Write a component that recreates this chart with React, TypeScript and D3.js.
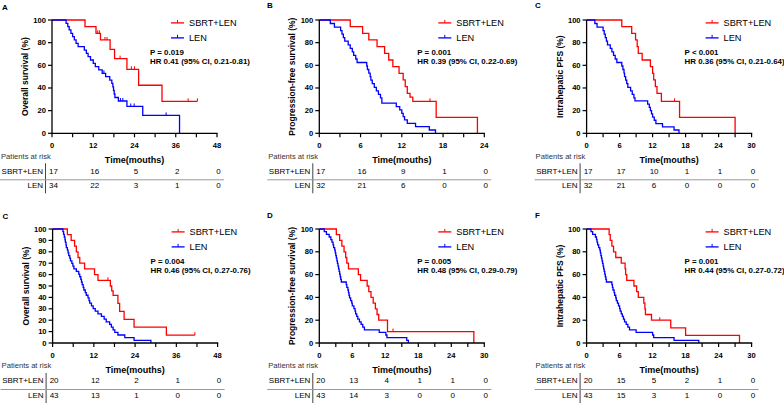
import React from 'react';
import * as d3 from 'd3';

type Pt = [number, number];

// ---------- Panel A : Overall survival ----------
const A_SBRT: Pt[] = [[9.6,94.1],[12.8,88.2],[14.1,82.4],[16.9,74.1],[18.2,65.9],[21.8,56.5],[25.2,42.4],[32.0,28.2]];
const A_SBRT_END = 42.3;
const A_SBRT_CENS = [13.3,13.8,15.4,16.0,19.8,23.1,24.0,39.6,42.3];
const A_LEN: Pt[] = [[4.1,97.1],[4.6,94.1],[5.0,91.2],[5.5,88.2],[6.0,85.3],[6.5,82.4],[7.0,79.4],[7.6,76.5],[9.4,73.5],[10.0,70.6],[10.5,67.6],[11.2,64.7],[12.0,61.8],[12.6,58.8],[13.6,55.9],[14.6,52.9],[15.6,50.0],[16.8,47.0],[17.4,44.0],[17.7,40.9],[17.9,37.8],[18.1,34.7],[18.3,31.6],[19.3,28.5],[21.8,23.7],[26.4,15.8],[37.1,0]];
const A_LEN_CENS = [15.1,19.9,20.6,22.9,23.9,33.2];
const A_RISK_T = [0,12,24,36,48];
const A_RISK_SBRT = [17,16,5,2,0];
const A_RISK_LEN = [34,22,3,1,0];

// ---------- Panel B : Progression-free survival ----------
const B_SBRT: Pt[] = [[4.5,94.1],[6.3,88.2],[7.2,82.4],[8.4,76.5],[9.5,70.6],[10.1,64.7],[10.7,58.8],[11.6,52.9],[12.2,47.1],[12.5,41.2],[12.8,35.3],[13.2,32.0],[13.6,28.2],[17.0,14.1],[23.0,0]];
const B_SBRT_CENS = [16.1];
const B_LEN: Pt[] = [[1.6,96.9],[2.2,93.8],[3.1,90.6],[3.3,87.5],[3.5,84.4],[3.7,81.3],[4.2,78.1],[4.5,75.0],[4.8,71.9],[5.0,68.8],[5.3,65.6],[5.5,62.5],[6.9,59.4],[7.0,56.3],[7.2,53.1],[7.4,50.0],[7.5,46.9],[7.7,43.8],[8.0,40.6],[8.3,37.5],[8.6,34.4],[8.9,31.3],[9.1,26.6],[11.2,23.5],[11.7,20.6],[12.0,17.6],[12.2,14.7],[12.4,11.8],[12.8,8.8],[14.0,5.9],[16.0,2.9],[16.9,0]];
const B_RISK_T = [0,6,12,18,24];
const B_RISK_SBRT = [17,16,9,1,0];
const B_RISK_LEN = [32,21,6,0,0];

// ---------- Panel C (top) : Intrahepatic PFS ----------
const C_SBRT: Pt[] = [[6.4,94.1],[8.2,88.2],[8.9,82.4],[9.2,76.5],[9.4,70.6],[10.1,64.7],[11.6,58.8],[12.0,52.9],[12.2,47.1],[12.5,41.2],[12.8,35.3],[13.6,28.2],[16.9,14.1],[27.0,0]];
const C_SBRT_CENS = [16.0];
const C_LEN: Pt[] = [[1.5,96.9],[1.9,93.8],[3.0,90.6],[3.2,87.5],[3.4,84.4],[3.6,81.3],[3.8,78.1],[4.3,75.0],[4.6,71.9],[4.9,68.8],[5.2,65.6],[5.5,62.5],[6.4,59.4],[6.6,56.3],[6.8,53.1],[6.9,50.0],[7.1,46.9],[7.3,43.8],[7.5,40.6],[8.0,37.5],[8.3,34.4],[8.6,31.3],[8.8,28.7],[11.1,25.8],[11.4,22.9],[11.6,20.0],[11.8,17.2],[12.0,14.3],[12.3,11.5],[12.6,8.6],[13.8,5.7],[15.9,2.9],[16.8,0]];
const C_RISK_T = [0,6,12,18,24,30];
const C_RISK_SBRT = [17,17,10,1,1,0];
const C_RISK_LEN = [32,21,6,0,0,0];

// ---------- Panel C (bottom) : Overall survival ----------
const C2_SBRT: Pt[] = [[4.3,95],[5.4,90],[6.4,85],[6.9,80],[7.4,75],[7.9,70],[9.3,65],[12.2,60],[13.2,55],[16.8,50],[17.2,45.8],[17.6,41.7],[19.0,34.7],[19.5,27.8],[20.8,20.8],[23.7,13.9],[33.1,6.9]];
const C2_SBRT_END = 41.4;
const C2_SBRT_CENS = [16.1,41.4];
const C2_LEN: Pt[] = [[3.0,97.7],[3.2,95.3],[3.4,93.0],[3.6,90.7],[3.7,88.4],[3.9,86.0],[4.0,83.7],[4.3,81.4],[4.5,79.1],[4.7,76.7],[5.0,74.4],[5.2,72.1],[5.6,69.8],[5.9,67.4],[6.2,65.1],[6.9,62.8],[7.6,60.5],[7.9,58.1],[8.2,55.8],[8.4,53.5],[8.6,51.2],[8.9,48.8],[9.1,46.5],[9.5,44.2],[9.8,41.9],[10.3,39.5],[10.6,37.2],[10.8,34.9],[11.3,32.6],[11.8,30.2],[12.4,27.9],[13.2,25.6],[14.2,23.3],[15.0,20.9],[15.6,18.6],[16.6,16.3],[17.1,14.0],[17.6,11.6],[18.1,9.3],[19.0,7.0],[21.0,4.7],[23.7,2.3],[28.6,0]];
const C2_RISK_T = [0,12,24,36,48];
const C2_RISK_SBRT = [20,12,2,1,0];
const C2_RISK_LEN = [43,13,1,0,0];

// ---------- Panel D : Progression-free survival ----------
const D_SBRT: Pt[] = [[3.1,95],[3.7,90],[4.1,85],[4.5,80],[4.8,75],[5.0,70],[5.3,65],[7.1,60],[7.5,55],[8.7,50],[9.0,45],[9.4,40],[9.8,35],[10.2,30],[10.5,25],[10.8,20],[12.4,10],[28.1,0]];
const D_SBRT_CENS = [13.4];
const D_LEN: Pt[] = [[0.9,97.7],[1.3,95.3],[1.8,93.0],[2.1,90.7],[2.3,88.4],[2.5,86.0],[2.6,83.7],[2.8,81.4],[2.9,79.1],[3.0,76.7],[3.1,74.4],[3.2,72.1],[3.3,69.8],[3.4,67.4],[3.5,65.1],[3.6,62.8],[3.7,60.5],[3.8,58.1],[3.9,55.8],[4.0,53.5],[4.9,51.2],[5.0,48.8],[5.2,46.5],[5.3,44.2],[5.4,41.9],[5.5,39.5],[5.7,37.2],[5.9,34.9],[6.0,32.6],[6.3,30.2],[6.5,27.9],[6.6,25.6],[6.8,23.3],[7.0,20.9],[7.3,18.6],[7.6,16.3],[7.9,14.0],[8.2,11.6],[10.9,9.3],[12.1,7.0],[12.3,4.7],[15.9,2.3],[16.2,0]];
const D_RISK_T = [0,6,12,18,24,30];
const D_RISK_SBRT = [20,13,4,1,1,0];
const D_RISK_LEN = [43,14,3,0,0,0];

// ---------- Panel F : Intrahepatic PFS ----------
const F_SBRT: Pt[] = [[4.1,95],[4.3,90],[4.6,85],[4.9,80],[5.3,75],[6.3,70],[7.0,65],[7.1,60],[7.3,55],[8.6,50],[9.1,45],[9.4,40],[10.4,35],[10.6,30],[10.7,25],[11.8,20],[15.3,13.3],[18.0,6.7],[27.8,0]];
const F_SBRT_CENS = [13.3];
const F_LEN: Pt[] = [[0.8,97.7],[1.1,95.3],[1.6,93.0],[1.8,90.7],[1.9,88.4],[2.0,86.0],[2.2,83.7],[2.4,81.4],[2.5,79.1],[2.6,76.7],[2.7,74.4],[2.8,72.1],[2.9,69.8],[3.0,67.4],[3.1,65.1],[3.2,62.8],[3.3,60.5],[3.4,58.1],[3.5,55.8],[3.6,53.5],[4.6,51.2],[4.7,48.8],[4.8,46.5],[5.0,44.2],[5.1,41.9],[5.3,39.5],[5.4,37.2],[5.6,34.9],[5.8,32.6],[6.0,30.2],[6.1,27.9],[6.3,25.6],[6.5,23.3],[6.7,20.9],[6.9,18.6],[7.2,16.3],[7.5,14.0],[7.8,11.6],[9.0,9.3],[12.0,7.0],[12.2,4.7],[15.9,2.3],[20.4,0]];
const F_RISK_T = [0,6,12,18,24,30];
const F_RISK_SBRT = [20,15,5,2,1,0];
const F_RISK_LEN = [43,15,3,1,0,0];

const GROUPS = ['SBRT+LEN', 'LEN'];
const X_TITLE = 'Time(mouths)';
const RISK_TITLE = 'Patients at risk';

const FONT = '"Liberation Sans", Arial, Helvetica, sans-serif';
const RED = '#ff0000';
const BLUE = '#0000ff';
const PLOT_W = 165;

interface Cfg {
  label: string; lx: number; ly: number;
  x0: number; yTop: number; yBot: number;
  xMax: number; xMajor: number; xMinor: number; yStep: number;
  yTitle: string; p: string; hr: string;
  sbrt: Pt[]; sbrtEnd?: number; sbrtCens: number[];
  len: Pt[]; lenEnd?: number; lenCens: number[];
  riskT: number[]; riskS: number[]; riskL: number[];
}

const PANELS: Cfg[] = [
  { label: 'A', lx: 2, ly: 7, x0: 52, yTop: 20, yBot: 133.3, xMax: 48, xMajor: 12, xMinor: 6, yStep: 20,
    yTitle: 'Overall survival (%)', p: 'P = 0.019', hr: 'HR 0.41 (95% CI, 0.21-0.81)',
    sbrt: A_SBRT, sbrtEnd: A_SBRT_END, sbrtCens: A_SBRT_CENS, len: A_LEN, lenCens: A_LEN_CENS,
    riskT: A_RISK_T, riskS: A_RISK_SBRT, riskL: A_RISK_LEN },
  { label: 'B', lx: 267, ly: 5, x0: 319.3, yTop: 20, yBot: 133.3, xMax: 24, xMajor: 6, xMinor: 3, yStep: 20,
    yTitle: 'Progression-free survival (%)', p: 'P = 0.001', hr: 'HR 0.39 (95% CI, 0.22-0.69)',
    sbrt: B_SBRT, sbrtCens: B_SBRT_CENS, len: B_LEN, lenCens: [],
    riskT: B_RISK_T, riskS: B_RISK_SBRT, riskL: B_RISK_LEN },
  { label: 'C', lx: 535, ly: 5, x0: 586.6, yTop: 20, yBot: 133.3, xMax: 30, xMajor: 6, xMinor: 3, yStep: 20,
    yTitle: 'Intrahepatic PFS (%)', p: 'P < 0.001', hr: 'HR 0.36 (95% CI, 0.21-0.64)',
    sbrt: C_SBRT, sbrtCens: C_SBRT_CENS, len: C_LEN, lenCens: [],
    riskT: C_RISK_T, riskS: C_RISK_SBRT, riskL: C_RISK_LEN },
  { label: 'C', lx: 2.5, ly: 216, x0: 52.6, yTop: 229, yBot: 343, xMax: 48, xMajor: 12, xMinor: 6, yStep: 10,
    yTitle: 'Overall survival (%)', p: 'P = 0.004', hr: 'HR 0.46 (95% CI, 0.27-0.76)',
    sbrt: C2_SBRT, sbrtEnd: C2_SBRT_END, sbrtCens: C2_SBRT_CENS, len: C2_LEN, lenCens: [],
    riskT: C2_RISK_T, riskS: C2_RISK_SBRT, riskL: C2_RISK_LEN },
  { label: 'D', lx: 267, ly: 215, x0: 319.3, yTop: 229, yBot: 343, xMax: 30, xMajor: 6, xMinor: 3, yStep: 20,
    yTitle: 'Progression-free survival (%)', p: 'P = 0.005', hr: 'HR 0.48 (95% CI, 0.29-0.79)',
    sbrt: D_SBRT, sbrtCens: D_SBRT_CENS, len: D_LEN, lenCens: [],
    riskT: D_RISK_T, riskS: D_RISK_SBRT, riskL: D_RISK_LEN },
  { label: 'F', lx: 535, ly: 215, x0: 586.6, yTop: 229, yBot: 343, xMax: 30, xMajor: 6, xMinor: 3, yStep: 20,
    yTitle: 'Intrahepatic PFS (%)', p: 'P = 0.001', hr: 'HR 0.44 (95% CI, 0.27-0.72)',
    sbrt: F_SBRT, sbrtCens: F_SBRT_CENS, len: F_LEN, lenCens: [],
    riskT: F_RISK_T, riskS: F_RISK_SBRT, riskL: F_RISK_LEN },
];

function stepPts(pts: Pt[], end?: number): Pt[] {
  const out: Pt[] = [[0, 100], ...pts];
  const last = pts[pts.length - 1];
  if (end !== undefined && last[1] > 0) out.push([end, last[1]]);
  return out;
}
function survAt(pts: Pt[], t: number): number {
  let s = 100;
  for (const [pt, ps] of pts) if (pt <= t) s = ps;
  return s;
}

function Panel({ c }: { c: Cfg }) {
  const x = d3.scaleLinear().domain([0, c.xMax]).range([c.x0, c.x0 + PLOT_W]);
  const y = d3.scaleLinear().domain([0, 100]).range([c.yBot, c.yTop]);
  const line = d3.line<Pt>().x(d => x(d[0])).y(d => y(d[1])).curve(d3.curveStepAfter);
  const xt = d3.range(0, c.xMax + 0.001, c.xMinor);
  const yt = d3.range(0, 100.001, c.yStep);
  const yb = c.yBot;
  const series = [
    { pts: c.sbrt, end: c.sbrtEnd, cens: c.sbrtCens, col: RED },
    { pts: c.len, end: c.lenEnd, cens: c.lenCens, col: BLUE },
  ];
  const yMid = (c.yTop + c.yBot) / 2;
  const xMid = c.x0 + PLOT_W / 2;
  return (
    <g fontFamily={FONT}>
      <text x={c.lx} y={c.ly} fontSize={8} fontWeight="bold" dominantBaseline="central">{c.label}</text>
      {series.map((s, i) => (
        <g key={i}>
          <path d={line(stepPts(s.pts, s.end)) || ''} fill="none" stroke={s.col} strokeWidth={1.3} />
          {s.cens.map((t, j) => {
            const v = survAt(s.pts, t);
            return <line key={j} x1={x(t)} x2={x(t)} y1={y(v) - 3} y2={y(v)} stroke={s.col} strokeWidth={1} />;
          })}
        </g>
      ))}
      <line x1={c.x0} x2={c.x0} y1={c.yTop} y2={yb} stroke="#000" strokeWidth={1.3} />
      <line x1={c.x0 - 0.6} x2={c.x0 + PLOT_W + 0.6} y1={yb} y2={yb} stroke="#000" strokeWidth={1.3} />
      {yt.map(v => (
        <g key={'y' + v}>
          <line x1={c.x0 - 4} x2={c.x0} y1={y(v)} y2={y(v)} stroke="#000" strokeWidth={1.2} />
          <text x={c.x0 - 6} y={y(v)} fontSize={7.6} fontWeight="bold" textAnchor="end" dominantBaseline="central">{v}</text>
        </g>
      ))}
      {xt.map(t => (
        <g key={'x' + t}>
          <line x1={x(t)} x2={x(t)} y1={yb} y2={yb + 4} stroke="#000" strokeWidth={1.2} />
          {Math.abs(t % c.xMajor) < 1e-6 && (
            <text x={x(t)} y={yb + 12.3} fontSize={7.6} fontWeight="bold" textAnchor="middle" dominantBaseline="central">{t}</text>
          )}
        </g>
      ))}
      <text x={xMid} y={yb + 26.5} fontSize={9} fontWeight="bold" textAnchor="middle" dominantBaseline="central">{X_TITLE}</text>
      <text transform={`translate(${c.x0 - 27},${yMid}) rotate(-90)`} fontSize={8.5} fontWeight="bold" textAnchor="middle" dominantBaseline="central">{c.yTitle}</text>
      {GROUPS.map((g, i) => {
        const ly = c.yTop + 2.9 + i * 15;
        const col = i === 0 ? RED : BLUE;
        return (
          <g key={g}>
            <line x1={c.x0 + 119} x2={c.x0 + 132} y1={ly} y2={ly} stroke={col} strokeWidth={1.3} />
            <line x1={c.x0 + 125.5} x2={c.x0 + 125.5} y1={ly - 3} y2={ly} stroke={col} strokeWidth={1} />
            <text x={c.x0 + 137} y={ly} fontSize={9.2} dominantBaseline="central">{g}</text>
          </g>
        );
      })}
      <text x={c.x0 + 98} y={c.yTop + 32.7} fontSize={7.9} fontWeight="bold" dominantBaseline="central">{c.p}</text>
      <text x={c.x0 + 98} y={c.yTop + 41.6} fontSize={7.9} fontWeight="bold" dominantBaseline="central">{c.hr}</text>
      <text x={c.x0 - 51} y={yb + 22.8} fontSize={7.6} fill="#333" dominantBaseline="central">{RISK_TITLE}</text>
      <line x1={c.x0 - 6.5} x2={c.x0 - 6.5} y1={yb + 30} y2={yb + 60} stroke="#444" strokeWidth={1} />
      <line x1={c.x0 - 52} x2={c.x0 + 172} y1={yb + 46.5} y2={yb + 46.5} stroke="#999" strokeWidth={1} />
      <text x={c.x0 - 9} y={yb + 37.7} fontSize={8} textAnchor="end" dominantBaseline="central">{GROUPS[0]}</text>
      <text x={c.x0 - 9} y={yb + 52.5} fontSize={8} textAnchor="end" dominantBaseline="central">{GROUPS[1]}</text>
      {c.riskT.map((t, i) => (
        <g key={'r' + t}>
          <text x={x(t) + 1.5} y={yb + 37.7} fontSize={8} textAnchor="middle" dominantBaseline="central">{c.riskS[i]}</text>
          <text x={x(t) + 1.5} y={yb + 52.5} fontSize={8} textAnchor="middle" dominantBaseline="central">{c.riskL[i]}</text>
        </g>
      ))}
    </g>
  );
}

export default function App() {
  return (
    <svg width={784} height={404} style={{ position: 'absolute', left: 0, top: 0, background: '#fff' }}>
      <rect width={784} height={404} fill="#fff" />
      {PANELS.map((c, i) => <Panel key={i} c={c} />)}
    </svg>
  );
}
